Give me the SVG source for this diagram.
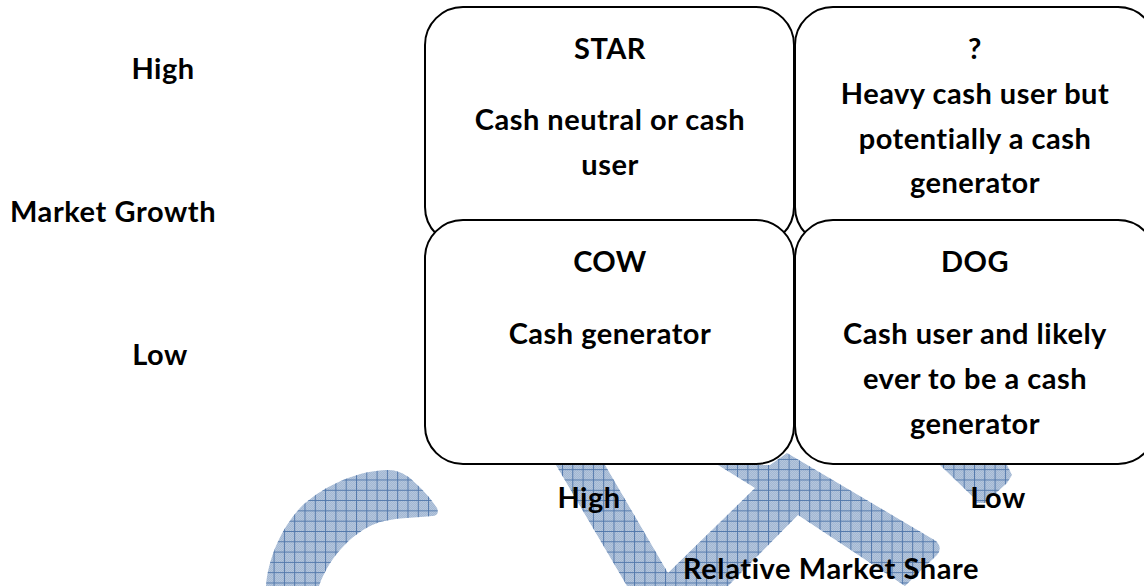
<svg xmlns="http://www.w3.org/2000/svg" width="1144" height="586" viewBox="0 0 1144 586">
<style>
.t{font-family:"Lato","Liberation Sans",sans-serif;font-weight:700;font-size:29px;letter-spacing:.5px;fill:#000;text-anchor:middle}
.b{fill:#fff;stroke:#000;stroke-width:2}
</style>
<defs>
<pattern id="f" width="2" height="2" patternUnits="userSpaceOnUse">
<rect width="2" height="2" fill="#a2b7d3"/>
<path d="M0 0h1v1h-1zM1 1h1v1h-1z" fill="#b5c6dc"/>
</pattern>
<pattern id="g" width="10.3" height="10.3" patternUnits="userSpaceOnUse" patternTransform="translate(5.8 5.7)">
<path d="M0 .5H10.3M.5 0V10.3" stroke="#5278ab" stroke-width="1" fill="none"/>
</pattern>
<path id="w" d="M266 586C268 560 280 530 300 508C318 490 352 471 387 470C397 470 403 473 410 478C420 487 430 497 437 508C439 513 437 516 432 516C410 518 395 518 380 522C355 530 330 555 319 586ZM556 465L627 586H728L798 515L905 586L937 555Q943 548 936 541L787 453L770 465H718L755 488L668 573L605 465ZM940 465H1007L1012 475L1007 483L985 503L976 503L973 497Z"/>
</defs>
<rect width="1144" height="586" fill="#fff"/>
<g id="watermark">
<use href="#w" fill="url(#f)"/>
<use href="#w" fill="url(#g)"/>
</g>
<g id="star"><rect class="b" x="425" y="7" width="369" height="238" rx="38"/><text class="t" x="610" y="59">STAR</text><text class="t" x="610" y="130">Cash neutral or cash</text><text class="t" x="610" y="175">user</text></g>
<g id="question"><rect class="b" x="795" y="7" width="361" height="238" rx="38"/><text class="t" x="975" y="59">?</text><text class="t" x="975" y="104">Heavy cash user but</text><text class="t" x="975" y="149">potentially a cash</text><text class="t" x="975" y="193">generator</text></g>
<g id="cow"><rect class="b" x="425" y="220" width="369" height="244" rx="38"/><text class="t" x="610" y="272">COW</text><text class="t" x="610" y="344">Cash generator</text></g>
<g id="dog"><rect class="b" x="795" y="220" width="361" height="244" rx="38"/><text class="t" x="975" y="272">DOG</text><text class="t" x="975" y="344">Cash user and likely</text><text class="t" x="975" y="389">ever to be a cash</text><text class="t" x="975" y="434">generator</text></g>
<text class="t" x="163" y="79">High</text>
<text class="t" x="113" y="222" textLength="206" lengthAdjust="spacing">Market Growth</text>
<text class="t" x="160" y="365">Low</text>
<text class="t" x="589" y="508">High</text>
<text class="t" x="998" y="508">Low</text>
<text class="t" x="831" y="579" textLength="296" lengthAdjust="spacing">Relative Market Share</text>
</svg>
